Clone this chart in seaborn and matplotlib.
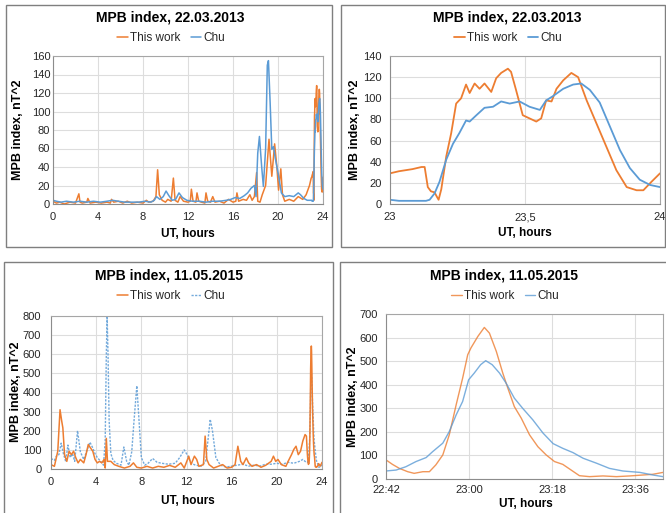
import numpy as np
import pandas as pd
import matplotlib
matplotlib.use("Agg")
import matplotlib.pyplot as plt
import seaborn as sns
from matplotlib.ticker import MultipleLocator, FixedLocator, FixedFormatter
from matplotlib.patches import Rectangle

# ---------------- data ----------------
series_names = ["This work", "Chu"]
titles = ["MPB index, 22.03.2013", "MPB index, 22.03.2013",
          "MPB index, 11.05.2015", "MPB index, 11.05.2015"]
ylabel_text = "MPB index, nT^2"
xlabel_text = "UT, hours"

# Panel 2: 22.03.2013, 23:00-24:00 (minutes after 23:00)
p2_min_this = [0, 2, 5, 7, 7.7, 8.4, 9.1, 9.9, 10.4, 10.8,
               11.4, 12.5, 13.6, 14.7, 15.8, 16.9, 17.7, 18.8, 19.9, 21,
               22.5, 23.6, 24.7, 26.2, 26.9, 28, 29.5, 31, 32.5, 33.6,
               34.7, 35.9, 37, 38.5, 40.3, 41.8, 43.7, 45.9, 48.1, 50.3,
               52.6, 54.8, 56.3, 58.1, 60]
p2_this = [29, 31, 33, 35, 35, 16, 12, 11, 7, 4,
           14, 45, 67, 95, 100, 113, 105, 114, 109, 114,
           106, 119, 124, 128, 125, 108, 84, 81, 78, 81,
           98, 97, 109, 117, 124, 120, 98, 76, 54, 32,
           16, 13, 13, 21, 29]
p2_min_chu = [0, 2, 5, 8, 8.8, 9.9, 11, 12.5, 14, 15.4,
              16.9, 17.7, 19.2, 21, 22.9, 24.7, 26.6, 28.8, 31, 33.3,
              34.7, 36.2, 38.5, 40.7, 42.5, 44.4, 46.6, 48.9, 51.1, 53.3,
              55.5, 57.8, 60]
p2_chu = [4, 3, 3, 3, 4, 10, 21, 42, 57, 67,
          79, 78, 84, 91, 92, 97, 95, 97, 92, 89,
          98, 102, 109, 113, 114, 108, 96, 73, 51, 34,
          23, 18, 16]

# Panel 1: 22.03.2013, 0-23 h (the last hour is panel 2's data)
p1_t_this = [0, 0.3, 0.6, 1.0, 1.5, 2.0, 2.3, 2.4, 2.6, 3.0,
             3.1, 3.3, 3.8, 4.3, 4.8, 5.1, 5.2, 5.4, 5.8, 6.2,
             6.6, 7.0, 7.5, 8.0, 8.3, 8.5, 8.9, 9.15, 9.3, 9.45,
             9.7, 10.0, 10.2, 10.5, 10.7, 10.85, 11.1, 11.3, 11.6, 12.0,
             12.2, 12.3, 12.45, 12.7, 12.8, 12.95, 13.2, 13.5, 13.6, 13.75,
             14.0, 14.2, 14.4, 14.8, 15.2, 15.6, 16.0, 16.25, 16.35, 16.5,
             16.9, 17.2, 17.5, 17.7, 17.9, 18.1, 18.2, 18.4, 18.6, 18.9,
             19.2, 19.45, 19.7, 19.9, 20.05, 20.25, 20.4, 20.6, 21.0, 21.4,
             21.8, 22.2, 22.5, 22.8, 22.95]
p1_this = [3, 1, 2, 0, 2, 1, 11, 2, 1, 2,
           6, 1, 2, 1, 2, 1, 5, 2, 3, 1,
           3, 1, 2, 1, 4, 2, 3, 8, 37, 10,
           4, 2, 5, 3, 28, 4, 2, 8, 3, 2,
           3, 16, 3, 2, 12, 3, 2, 1, 12, 3,
           2, 8, 2, 3, 1, 5, 2, 3, 12, 3,
           5, 4, 10, 4, 8, 34, 3, 2, 10, 20,
           70, 30, 65, 40, 15, 38, 10, 3, 5, 3,
           8, 5, 10, 20, 28]
p1_t_chu = [0, 0.3, 0.7, 1.2, 1.8, 2.4, 3.0, 3.6, 4.2, 4.8,
            5.3, 5.8, 6.4, 7.0, 7.6, 8.2, 8.7, 9.0, 9.2, 9.5,
            9.8, 10.05, 10.3, 10.6, 10.9, 11.2, 11.5, 11.9, 12.4, 13.0,
            13.6, 14.2, 14.8, 15.4, 15.8, 16.2, 16.6, 17.0, 17.3, 17.6,
            17.9, 18.05, 18.2, 18.35, 18.55, 18.7, 18.9, 19.05, 19.15, 19.3,
            19.45, 19.6, 19.75, 20.0, 20.3, 20.6, 21.0, 21.4, 21.8, 22.0,
            22.3, 22.6, 22.9]
p1_chu = [4, 3, 2, 3, 2, 3, 2, 3, 2, 3,
          4, 3, 2, 2, 2, 3, 2, 4, 8, 5,
          8, 14, 9, 4, 5, 12, 7, 4, 3, 3,
          2, 3, 3, 4, 5, 7, 6, 9, 12, 17,
          20, 8, 55, 73, 40, 19, 60, 150, 155, 110,
          59, 62, 50, 34, 12, 8, 9, 8, 12, 10,
          6, 4, 4]

# Panel 4: 11.05.2015, 22:42-23:42 (minutes after 22:42)
p4_min_this = [0, 1.4, 2.9, 4.7, 6.1, 8, 9.4, 10.8, 12.3, 13.7,
               15.2, 16.6, 17.7, 18.4, 19.9, 21.3, 22.4, 23.9, 25.3, 26.4,
               27.8, 29.3, 31.1, 32.9, 34.7, 36.5, 38.3, 40.1, 41.9, 44.1,
               47, 49.9, 52.8, 55.7, 57.8, 60]
p4_this = [81, 62, 45, 31, 24, 31, 31, 60, 102, 187,
           315, 428, 527, 556, 605, 643, 619, 541, 449, 385,
           307, 258, 187, 137, 102, 74, 62, 38, 14, 10,
           13, 10, 13, 17, 20, 28]
p4_min_chu = [0, 2.2, 4.3, 6.5, 8.7, 10.1, 12.3, 13.7, 15.2, 16.6,
              17.9, 19.1, 20.5, 21.6, 23, 24.6, 26, 27.8, 29.6, 31.8,
              34, 36.2, 38.3, 40.5, 42.7, 45.6, 48.4, 51.3, 55, 57.8,
              60]
p4_chu = [34, 38, 52, 74, 91, 116, 152, 201, 272, 329,
          421, 449, 485, 502, 485, 449, 407, 343, 300, 251,
          195, 150, 130, 112, 88, 67, 45, 34, 28, 17,
          10]
p4_tick_labels = ["22:42", "23:00", "23:18", "23:36"]

# Panel 3: 11.05.2015, whole day (22:42-23:42 is panel 4's data)
p3_t_this = [0, 0.3, 0.6, 0.8, 0.95, 1.05, 1.2, 1.4, 1.6, 1.8,
             2.0, 2.2, 2.4, 2.6, 2.9, 3.1, 3.3, 3.5, 3.7, 3.9,
             4.1, 4.3, 4.5, 4.7, 4.8, 4.9, 5.0, 5.3, 5.6, 6.0,
             6.5, 7.0, 7.3, 7.6, 8.0, 8.5, 9.0, 9.5, 10.0, 10.5,
             11.0, 11.5, 11.8, 12.2, 12.4, 12.7, 12.9, 13.1, 13.5, 13.65,
             13.8, 14.0, 14.4, 14.8, 15.2, 15.6, 16.0, 16.3, 16.55, 16.8,
             17.0, 17.3, 17.5, 17.8, 18.2, 18.6, 19.0, 19.5, 19.7, 19.9,
             20.1, 20.4, 20.8, 21.0, 21.3, 21.5, 21.7, 21.9, 22.1, 22.3,
             22.5, 22.62]
p3_this = [23, 14, 93, 310, 250, 215, 75, 40, 93, 75,
           93, 58, 32, 50, 32, 75, 128, 110, 93, 50,
           32, 40, 32, 50, 5, 160, 40, 40, 23, 14,
           5, 14, 32, 9, 5, 14, 5, 14, 9, 19,
           9, 32, 5, 67, 23, 67, 50, 14, 23, 172,
           50, 23, 5, 14, 23, 5, 9, 23, 119, 40,
           23, 58, 32, 14, 23, 9, 19, 40, 67, 40,
           50, 23, 14, 40, 75, 102, 119, 75, 93, 146,
           180, 172]
p3_tail_t_this = [23.85, 24.0]
p3_tail_this = [15, 35]
p3_t_chu = [0, 0.3, 0.5, 0.7, 0.9, 1.1, 1.3, 1.5, 1.7, 1.9,
            2.1, 2.35, 2.6, 2.9, 3.2, 3.45, 3.7, 3.9, 4.1, 4.4,
            4.65, 4.8, 4.9, 4.97, 5.05, 5.15, 5.3, 5.5, 5.8, 6.2,
            6.45, 6.7, 6.9, 7.15, 7.35, 7.6, 7.8, 8.0, 8.3, 8.6,
            9.0, 9.4, 9.8, 10.4, 11.0, 11.4, 11.8, 12.1, 12.4, 12.8,
            13.3, 13.7, 13.9, 14.1, 14.3, 14.6, 15.0, 15.5, 16.0, 16.5,
            17.0, 17.5, 18.0, 18.5, 19.0, 19.5, 20.0, 20.5, 21.0, 21.5,
            22.0, 22.3, 22.6]
p3_chu = [55, 45, 70, 75, 135, 80, 40, 125, 60, 80,
          40, 200, 90, 50, 100, 140, 110, 80, 60, 40,
          20, 150, 600, 800, 600, 250, 80, 45, 30, 20,
          115, 40, 20, 90, 250, 435, 250, 60, 20, 30,
          55, 35, 30, 25, 30, 60, 100, 70, 30, 20,
          15, 40, 150, 260, 200, 60, 20, 10, 15, 20,
          25, 15, 20, 15, 25, 25, 30, 25, 35, 30,
          40, 50, 35]
p3_tail_t_chu = [23.85, 24.0]
p3_tail_chu = [10, 20]

# ---------------- style ----------------
sns.set_theme(style="white")
plt.rcParams['font.family'] = ['Liberation Sans', 'DejaVu Sans']

ORANGE = "#ED7D31"
BLUE = "#5B9BD5"
TXT = "#262626"
W, H = 666, 513
fig = plt.figure(figsize=(W / 100, H / 100), dpi=100)


def fx(px):
    return px / W


def fy(py):
    return 1 - py / H


def add_ax(l, t, r, b):
    return fig.add_axes([fx(l), fy(b), (r - l) / W, (b - t) / H])


def frame(l, t, r, b):
    fig.add_artist(Rectangle((fx(l), fy(b)), (r - l) / W, (b - t) / H,
                             transform=fig.transFigure, fill=False,
                             ec="#7F7F7F", lw=1.0))


def style(ax, xlim, ylim, ymaj, xminor, yminor, ylabpad):
    ax.set_xlim(*xlim)
    ax.set_ylim(*ylim)
    ax.yaxis.set_major_locator(MultipleLocator(ymaj))
    ax.xaxis.set_minor_locator(MultipleLocator(xminor))
    ax.yaxis.set_minor_locator(MultipleLocator(yminor))
    ax.set_axisbelow(True)
    ax.grid(True, which="major", color="#DDDDDD", lw=0.8)
    ax.grid(False, which="minor")
    ax.tick_params(which="both", direction="in", length=2.5, width=0.6,
                   color="#8C8C8C", labelsize=8, labelcolor=TXT)
    ax.tick_params(axis="y", which="major", pad=ylabpad)
    ax.tick_params(axis="x", which="major", pad=6)
    for s in ax.spines.values():
        s.set_visible(True)
        s.set_color("#A6A6A6")
        s.set_linewidth(0.8)
    ax.spines["left"].set_color("#8C8C8C")
    ax.spines["bottom"].set_color("#8C8C8C")
    ax.set_xlabel("")
    ax.set_ylabel("")


def texts(ax, title_xy, legend_xy, xlabel_xy, ylabel_xy, title):
    fig.text(fx(title_xy[0]), fy(title_xy[1]), title, ha="center", va="center",
             fontsize=10, fontweight="bold", color="black")
    fig.text(fx(xlabel_xy[0]), fy(xlabel_xy[1]), xlabel_text, ha="center",
             va="center", fontsize=8.5, fontweight="bold", color="black")
    fig.text(fx(ylabel_xy[0]), fy(ylabel_xy[1]), ylabel_text, ha="center",
             va="center", rotation=90, fontsize=9, fontweight="bold",
             color="black")
    handles, labels = ax.get_legend_handles_labels()
    order = [labels.index(n) for n in series_names]
    ax.legend([handles[i] for i in order], [labels[i] for i in order],
              loc="center", bbox_to_anchor=(fx(legend_xy[0]), fy(legend_xy[1])),
              bbox_transform=fig.transFigure, ncol=2, frameon=False,
              fontsize=8.5, handlelength=0.9, handletextpad=0.15,
              columnspacing=0.9, labelcolor=TXT)


def line(ax, x, y, color, label, lw=1.1, ls="-", alpha=1.0):
    df = pd.DataFrame({"x": x, "y": y})
    sns.lineplot(data=df, x="x", y="y", ax=ax, color=color, lw=lw, ls=ls,
                 label=label, estimator=None, sort=False, alpha=alpha)


# panel frames
frame(6, 5, 332, 247)
frame(341, 5, 665, 247)
frame(4, 262, 333, 520)
frame(340, 262, 670, 520)

# ---------- Panel 1 ----------
ax1 = add_ax(53, 56, 323, 204)
x1_this = p1_t_this + [23 + m / 60 for m in p2_min_this]
y1_this = p1_this + p2_this
x1_chu = p1_t_chu + [23 + m / 60 for m in p2_min_chu]
y1_chu = p1_chu + p2_chu
line(ax1, x1_this, y1_this, ORANGE, "This work", lw=1.1)
line(ax1, x1_chu, y1_chu, BLUE, "Chu", lw=1.1)
style(ax1, (0, 24), (0, 160), 20, 0.5, 5, 2)
ax1.xaxis.set_major_locator(MultipleLocator(4))
texts(ax1, (170, 18), (171, 38), (188, 234), (18, 130), titles[0])

# ---------- Panel 2 ----------
ax2 = add_ax(390, 56, 660, 204)
line(ax2, [23 + m / 60 for m in p2_min_this], p2_this, ORANGE, "This work", lw=1.3)
line(ax2, [23 + m / 60 for m in p2_min_chu], p2_chu, BLUE, "Chu", lw=1.3)
style(ax2, (23, 24), (0, 140), 20, 0.1, 5, 6)
ax2.xaxis.set_major_locator(FixedLocator([23, 23.5, 24]))
ax2.xaxis.set_major_formatter(FixedFormatter(["23", "23,5", "24"]))
texts(ax2, (507, 18), (508, 38), (525, 233), (355, 130), titles[1])

# ---------- Panel 3 ----------
ax3 = add_ax(51, 316, 322, 469)
x3_this = p3_t_this + [22.7 + m / 60 for m in p4_min_this] + p3_tail_t_this
y3_this = p3_this + p4_this + p3_tail_this
x3_chu = p3_t_chu + [22.7 + m / 60 for m in p4_min_chu] + p3_tail_t_chu
y3_chu = p3_chu + p4_chu + p3_tail_chu
line(ax3, x3_chu, y3_chu, BLUE, "Chu", lw=1.0, ls=(0, (1.6, 1.0)), alpha=0.85)
line(ax3, x3_this, y3_this, ORANGE, "This work", lw=1.1)
style(ax3, (0, 24), (0, 800), 100, 0.5, 25, 7)
ax3.xaxis.set_major_locator(MultipleLocator(4))
texts(ax3, (169, 275), (171, 296), (188, 501), (16, 392), titles[2])

# ---------- Panel 4 ----------
ax4 = add_ax(386, 314, 663, 479)
line(ax4, p4_min_this, p4_this, ORANGE, "This work", lw=1.0, alpha=0.8)
line(ax4, p4_min_chu, p4_chu, BLUE, "Chu", lw=1.0, alpha=0.8)
style(ax4, (0, 60), (0, 700), 100, 6, 25, 6)
ax4.xaxis.set_major_locator(FixedLocator([0, 18, 36, 54]))
ax4.xaxis.set_major_formatter(FixedFormatter(p4_tick_labels))
ax4.tick_params(axis="x", which="major", pad=4)
texts(ax4, (504, 275), (505, 296), (526, 504), (353, 397), titles[3])

fig.savefig("out.png", dpi=100, facecolor="white")
